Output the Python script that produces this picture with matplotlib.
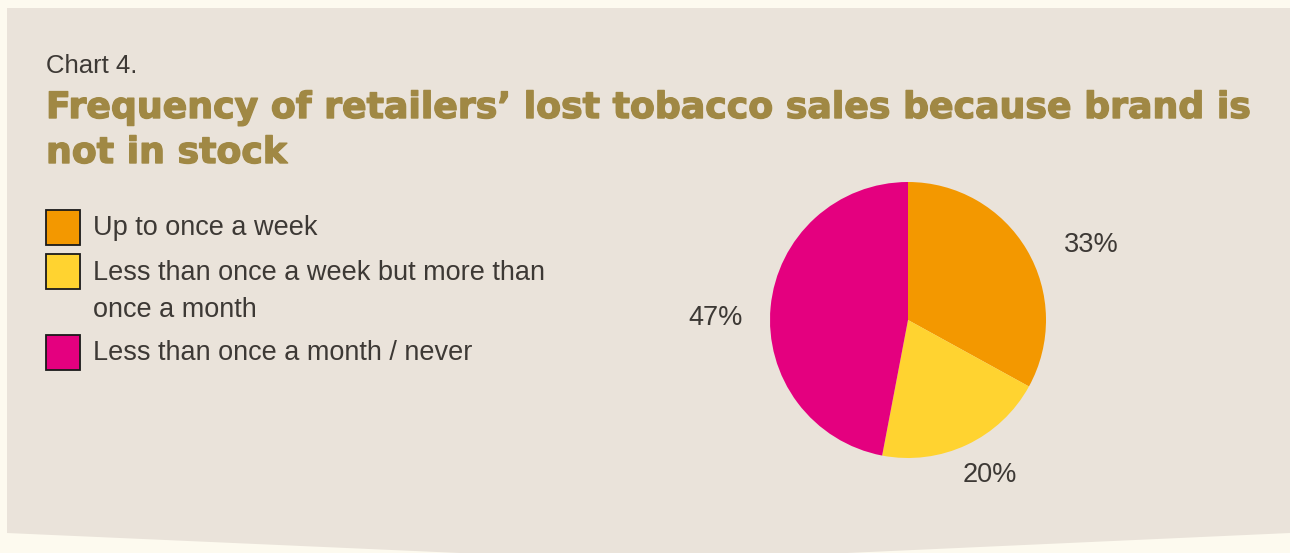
import matplotlib
matplotlib.use("Agg")
import matplotlib.pyplot as plt
import matplotlib.patheffects as pe
from matplotlib.patches import Polygon, Rectangle

# データ
categories = [
    "Up to once a week",
    "Less than once a week but more than\nonce a month",
    "Less than once a month / never",
]
shares = [33, 20, 47]
colors = ["#F39800", "#FFD330", "#E4007F"]

title_small = "Chart 4."
title_lines = [
    "Frequency of retailers\u2019 lost tobacco sales because brand is",
    "not in stock",
]

W, H = 1290, 553
fig = plt.figure(figsize=(W / 100, H / 100), dpi=100)
fig.patch.set_facecolor("#FDFAEF")

# 背景用の軸（ピクセル座標）
bg = fig.add_axes([0, 0, 1, 1])
bg.set_xlim(0, W)
bg.set_ylim(H, 0)
bg.axis("off")

panel = Polygon(
    [(7, 8), (W, 8), (W, 533), (847, 553), (460, 553), (7, 533)],
    closed=True,
    facecolor="#EAE3DA",
    edgecolor="none",
)
bg.add_patch(panel)

text_color = "#3D3935"
title_color = "#A08844"

bg.text(46, 73, title_small, fontsize=18.5, color=text_color,
        family="Liberation Sans", va="baseline", ha="left")

# タイトル（太さを足して幅を合わせる）
heavy = [pe.withStroke(linewidth=1.0, foreground=title_color)]
t1 = bg.text(46, 118, title_lines[0], fontsize=26, color=title_color,
             family="DejaVu Sans", weight="bold", va="baseline", ha="left",
             path_effects=heavy)
t2 = bg.text(46, 163, title_lines[1], fontsize=26, color=title_color,
             family="DejaVu Sans", weight="bold", va="baseline", ha="left",
             path_effects=heavy)
fig.canvas.draw()
w = t1.get_window_extent().width
fs = 26 * 1206 / w
t1.set_fontsize(fs)
t2.set_fontsize(fs)

# 凡例
box_tops = [210, 254, 335]
baselines = [235, 280, 360]
for label, col, top, base in zip(categories, colors, box_tops, baselines):
    bg.add_patch(Rectangle((45.5, top), 34, 35, facecolor=col,
                           edgecolor="#1a1a1a", linewidth=1.3))
    for i, line in enumerate(label.split("\n")):
        bg.text(93, base + i * 37, line, fontsize=19.5, color=text_color,
                family="Liberation Sans", va="baseline", ha="left")

# 円グラフ
cx, cy, r = 908, 320, 138
ax = fig.add_axes([(cx - r) / W, (H - cy - r) / H, 2 * r / W, 2 * r / H])
wedges, texts = ax.pie(
    shares,
    colors=colors,
    labels=[f"{v}%" for v in shares],
    startangle=90,
    counterclock=False,
    labeldistance=1.4,
    textprops=dict(fontsize=19.5, color=text_color, family="Liberation Sans"),
)
ax.set_xlim(-1, 1)
ax.set_ylim(-1, 1)
ax.set_aspect("equal")

# ラベル位置の微調整（半径単位）
nudges = [(0.12, -0.17), (0.0, 0.14), (0.0, -0.12)]
for t, (dx, dy) in zip(texts, nudges):
    x, y = t.get_position()
    t.set_position((x + dx, y + dy))
    t.set_ha("center")
    t.set_va("center")

fig.savefig("out.png", dpi=100, facecolor=fig.get_facecolor())
